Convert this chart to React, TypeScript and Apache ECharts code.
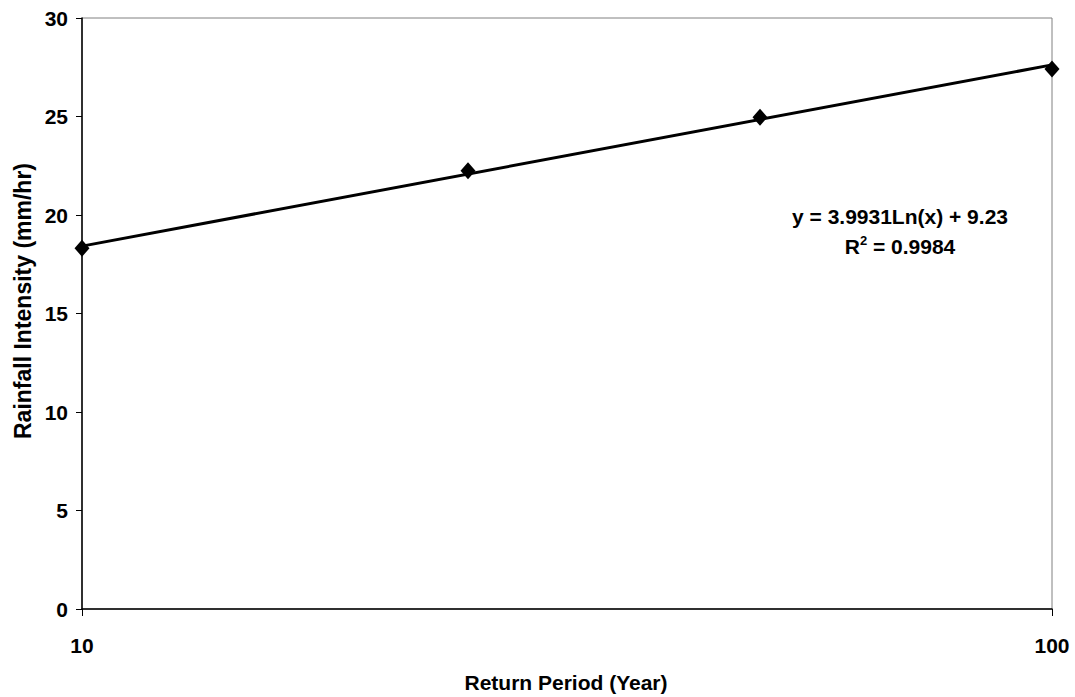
import React, { useEffect, useRef } from "react";
import * as echarts from "echarts";

const returnPeriods = [10, 25, 50, 100];
const intensities = [18.31, 22.25, 24.96, 27.41];
const trendX = [10, 100];
const trendY = [18.42, 27.62];
const yTicks = { min: 0, max: 30, interval: 5 };
const equationText = "y = 3.9931Ln(x) + 9.23";
const r2Value = "0.9984";
const xTitle = "Return Period (Year)";
const yTitle = "Rainfall Intensity (mm/hr)";

const FONT = "Arial, 'Liberation Sans', sans-serif";

export default function App() {
  const ref = useRef<HTMLDivElement>(null);
  useEffect(() => {
    if (!ref.current) return;
    const chart = echarts.init(ref.current, null, { renderer: "svg" });
    chart.setOption({
      animation: false,
      backgroundColor: "#ffffff",
      grid: {
        left: 82,
        top: 18,
        right: 23,
        bottom: 88,
        show: true,
        borderColor: "#808080",
        borderWidth: 1,
      },
      xAxis: {
        type: "log",
        logBase: 10,
        min: 10,
        max: 100,
        axisLine: { show: true, lineStyle: { color: "#000", width: 1.5 } },
        axisTick: { show: true, length: 7, lineStyle: { color: "#000" } },
        axisLabel: {
          margin: 26,
          color: "#000",
          fontWeight: "bold",
          fontSize: 21,
          fontFamily: FONT,
        },
        splitLine: { show: false },
        minorTick: { show: false },
      },
      yAxis: {
        type: "value",
        min: yTicks.min,
        max: yTicks.max,
        interval: yTicks.interval,
        axisLine: { show: true, lineStyle: { color: "#000", width: 1.5 } },
        axisTick: { show: true, length: 6, lineStyle: { color: "#000" } },
        axisLabel: {
          margin: 14,
          color: "#000",
          fontWeight: "bold",
          fontSize: 21,
          fontFamily: FONT,
        },
        splitLine: { show: false },
      },
      series: [
        {
          type: "line",
          data: trendX.map((x, i) => [x, trendY[i]]),
          showSymbol: false,
          symbol: "none",
          lineStyle: { color: "#000", width: 3 },
          z: 2,
        },
        {
          type: "scatter",
          data: returnPeriods.map((x, i) => [x, intensities[i]]),
          symbol: "diamond",
          symbolSize: [15, 17],
          itemStyle: { color: "#000", opacity: 1 },
          z: 3,
        },
      ],
      graphic: [
        {
          type: "text",
          x: 566,
          y: 682,
          style: {
            text: xTitle,
            fill: "#000",
            font: `bold 21px ${FONT}`,
            align: "center",
            verticalAlign: "middle",
          },
        },
        {
          type: "text",
          x: 23,
          y: 301,
          rotation: Math.PI / 2,
          style: {
            text: yTitle,
            fill: "#000",
            font: `bold 23px ${FONT}`,
            align: "center",
            verticalAlign: "middle",
          },
        },
        {
          type: "text",
          x: 900,
          y: 216,
          style: {
            text: equationText,
            fill: "#000",
            font: `bold 21px ${FONT}`,
            align: "center",
            verticalAlign: "middle",
          },
        },
        {
          type: "text",
          x: 900,
          y: 246,
          style: {
            text: "R{s|2} = " + r2Value,
            fill: "#000",
            fontSize: 21,
            fontWeight: "bold",
            fontFamily: FONT,
            align: "center",
            verticalAlign: "middle",
            rich: {
              s: {
                fontSize: 13,
                fontWeight: "bold",
                fontFamily: FONT,
                fill: "#000",
                padding: [0, 0, 11, 0],
              },
            },
          },
        },
      ],
    });
    return () => chart.dispose();
  }, []);
  return (
    <div
      ref={ref}
      style={{ position: "fixed", left: 0, top: 0, width: 1075, height: 697 }}
    />
  );
}
